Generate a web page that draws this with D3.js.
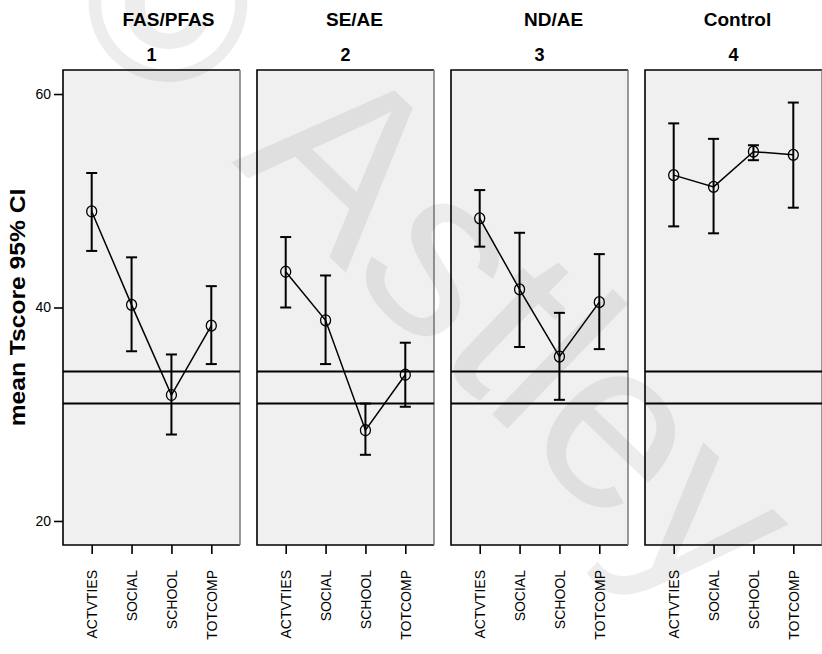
<!DOCTYPE html>
<html>
<head>
<meta charset="utf-8">
<script src="https://cdn.jsdelivr.net/npm/d3@7"></script>
<style>
  html, body { margin: 0; padding: 0; background: #fff; }
  svg { display: block; font-family: Arial, "Liberation Sans", sans-serif; }
</style>
</head>
<body>
<svg id="chart" width="822" height="654"></svg>
<script>
// Child Behavior Checklist competence T-scores: mean with 95% CI by diagnostic group
const groups = ["FAS/PFAS", "SE/AE", "ND/AE", "Control"];
const groupCodes = ["1", "2", "3", "4"];
const scales = ["ACTVTIES", "SOCIAL", "SCHOOL", "TOTCOMP"];

const meanFAS = [49.0, 40.25, 31.8, 38.3];
const lowFAS  = [45.3, 35.9, 28.1, 34.7];
const highFAS = [52.6, 44.7, 35.6, 42.0];

const meanSE = [43.35, 38.8, 28.5, 33.7];
const lowSE  = [40.0, 34.7, 26.2, 30.7];
const highSE = [46.6, 43.0, 31.0, 36.7];

const meanND = [48.35, 41.7, 35.4, 40.5];
const lowND  = [45.7, 36.3, 31.35, 36.1];
const highND = [51.0, 47.0, 39.5, 45.0];

const meanCtl = [52.4, 51.3, 54.6, 54.3];
const lowCtl  = [47.6, 46.95, 53.8, 49.35];
const highCtl = [57.25, 55.8, 55.2, 59.2];

const yTicks = [20, 40, 60];
const cutoffs = [34, 31];   // borderline / clinical range thresholds

const means = [meanFAS, meanSE, meanND, meanCtl];
const lows = [lowFAS, lowSE, lowND, lowCtl];
const highs = [highFAS, highSE, highND, highCtl];

// the group-name labels sit a little right of each panel's centre
const titleShift = [17, 9, 14, 4];

const svg = d3.select("#chart");

const plotTop = 70, plotBottom = 545;
const firstLeft = 63, panelW = 177, panelStep = 194;

const y = d3.scaleLinear().domain([17.75, 62.25]).range([plotBottom, plotTop]);
const panelX = d3.scaleBand().domain(groups)
  .range([firstLeft, firstLeft + panelStep * groups.length])
  .paddingInner(0).paddingOuter(0);

groups.forEach((g, gi) => {
  const x0 = panelX(g);
  const x = d3.scalePoint().domain(scales).range([x0, x0 + panelW]).padding(0.72);
  const panel = svg.append("g");

  panel.append("rect")
    .attr("x", x0).attr("y", plotTop)
    .attr("width", panelW).attr("height", plotBottom - plotTop)
    .attr("fill", "#f0f0f0");

  // frame: dark left/top/bottom, grey right
  panel.append("path")
    .attr("d", `M${x0 + panelW},${plotTop}H${x0}V${plotBottom}H${x0 + panelW}`)
    .attr("fill", "none").attr("stroke", "#000").attr("stroke-width", 1.6);
  panel.append("line")
    .attr("x1", x0 + panelW).attr("x2", x0 + panelW)
    .attr("y1", plotTop).attr("y2", plotBottom)
    .attr("stroke", "#7a7a7a").attr("stroke-width", 1.5);

  // group titles
  svg.append("text")
    .attr("x", x0 + panelW / 2 + titleShift[gi]).attr("y", 26)
    .attr("text-anchor", "middle").attr("font-weight", "bold").attr("font-size", 19)
    .text(g);
  svg.append("text")
    .attr("x", x0 + panelW / 2).attr("y", 61)
    .attr("text-anchor", "middle").attr("font-weight", "bold").attr("font-size", 18)
    .text(groupCodes[gi]);

  // cutoff reference lines
  panel.selectAll("line.cut").data(cutoffs).join("line")
    .attr("class", "cut")
    .attr("x1", x0).attr("x2", x0 + panelW)
    .attr("y1", d => y(d)).attr("y2", d => y(d))
    .attr("stroke", "#000").attr("stroke-width", 2);

  // x axis
  const xa = panel.append("g")
    .attr("transform", `translate(0,${plotBottom})`)
    .call(d3.axisBottom(x).tickSize(9).tickSizeOuter(0));
  xa.select(".domain").remove();
  xa.selectAll(".tick line").attr("stroke", "#000").attr("stroke-width", 1.6);
  xa.selectAll(".tick text")
    .attr("transform", "rotate(-90)")
    .attr("x", -25).attr("y", 0).attr("dy", "0.36em")
    .attr("text-anchor", "end")
    .attr("font-size", 14).attr("font-family", "Arial, 'Liberation Sans', sans-serif")
    .attr("fill", "#000");

  const rows = scales.map((s, i) => ({ s, m: means[gi][i], lo: lows[gi][i], hi: highs[gi][i] }));

  // error bars
  const eb = panel.append("g").attr("stroke", "#000").attr("stroke-width", 2);
  eb.selectAll("line.v").data(rows).join("line").attr("class", "v")
    .attr("x1", d => x(d.s)).attr("x2", d => x(d.s))
    .attr("y1", d => y(d.lo)).attr("y2", d => y(d.hi));
  eb.selectAll("line.hc").data(rows).join("line").attr("class", "hc")
    .attr("x1", d => x(d.s) - 5.5).attr("x2", d => x(d.s) + 5.5)
    .attr("y1", d => y(d.hi)).attr("y2", d => y(d.hi));
  eb.selectAll("line.lc").data(rows).join("line").attr("class", "lc")
    .attr("x1", d => x(d.s) - 5.5).attr("x2", d => x(d.s) + 5.5)
    .attr("y1", d => y(d.lo)).attr("y2", d => y(d.lo));

  // connecting line through the means
  panel.append("path")
    .datum(rows)
    .attr("fill", "none").attr("stroke", "#000").attr("stroke-width", 1.5)
    .attr("d", d3.line().x(d => x(d.s)).y(d => y(d.m)));

  panel.selectAll("ellipse").data(rows).join("ellipse")
    .attr("cx", d => x(d.s)).attr("cy", d => y(d.m))
    .attr("rx", 5).attr("ry", 5.5)
    .attr("fill", "none").attr("stroke", "#000").attr("stroke-width", 1.3);
});

// y axis
const ya = svg.append("g")
  .attr("transform", `translate(${firstLeft},0)`)
  .call(d3.axisLeft(y).tickValues(yTicks).tickSize(9).tickSizeOuter(0));
ya.select(".domain").remove();
ya.selectAll(".tick line").attr("stroke", "#000").attr("stroke-width", 1.6);
ya.selectAll(".tick text")
  .attr("x", -12)
  .attr("font-size", 14).attr("font-family", "Arial, 'Liberation Sans', sans-serif")
  .attr("fill", "#000");

svg.append("text")
  .attr("transform", `translate(25,${(plotTop + plotBottom) / 2}) rotate(-90) scale(1.12,1)`)
  .attr("text-anchor", "middle")
  .attr("font-weight", "bold").attr("font-size", 22)
  .text("mean Tscore 95% CI");

// copyright watermark
const wm = svg.append("g").attr("fill", "#000").attr("fill-opacity", 0.07).attr("pointer-events", "none");
wm.append("text")
  .attr("x", 168).attr("y", 2)
  .attr("text-anchor", "middle").attr("dominant-baseline", "central")
  .attr("font-size", 225).attr("font-weight", "bold")
  .text("©");
wm.append("text")
  .attr("transform", "translate(231,162) rotate(44)")
  .attr("font-size", 240)
  .text("Astley");
</script>
</body>
</html>
